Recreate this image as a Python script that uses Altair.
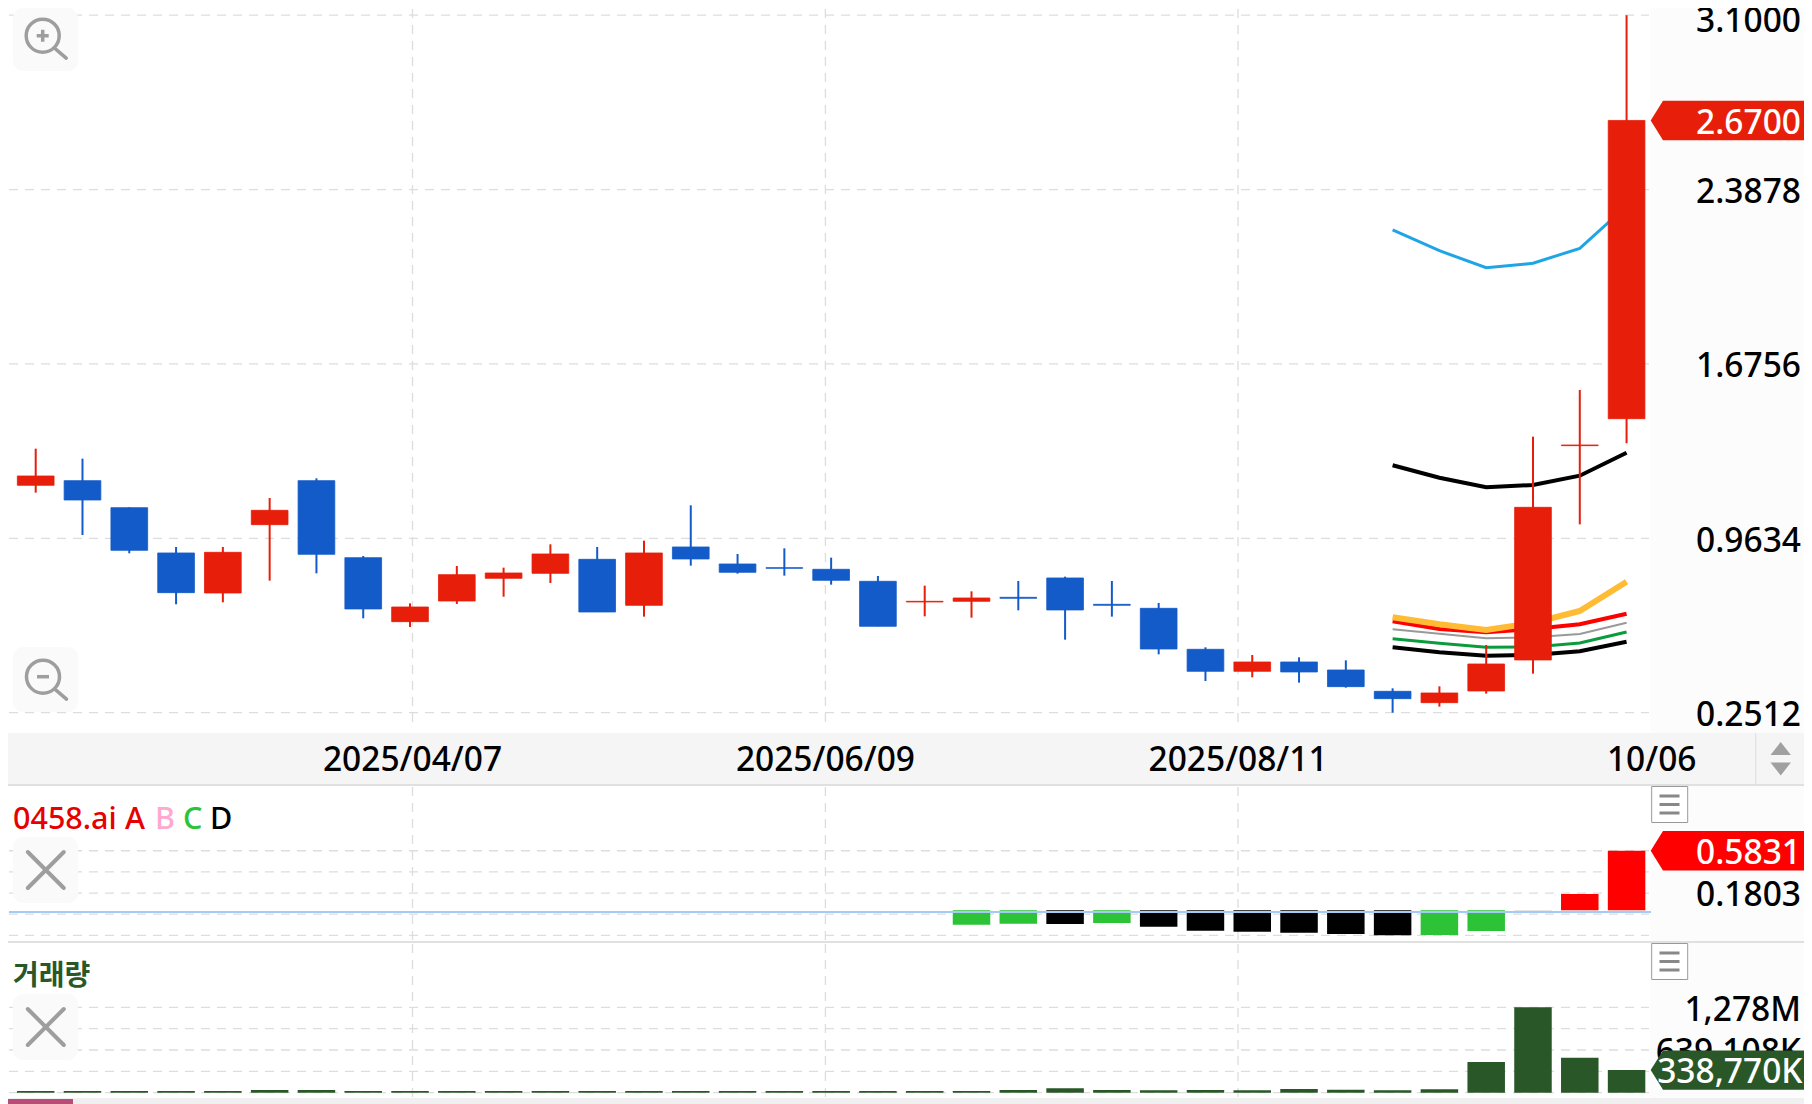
import altair as alt
import pandas as pd

# ---------- data ----------
highs = [1.3295,1.2887,1.0900,0.9280,0.9280,1.1281,1.2084,0.8912,0.6979,0.8504,0.8436,0.9389,0.9280,0.9538,1.0981,
         0.8994,0.9225,0.8844,0.8095,0.7701,0.7469,0.7891,0.8068,0.7891,0.6993,0.5182,0.4869,0.4774,0.4651,0.3508,
         0.3589,0.5277,1.3786,1.5691,3.1000]
lows = [1.1499,0.9770,0.9021,0.6938,0.7020,0.7905,0.8204,0.6367,0.6013,0.6952,0.7251,0.7810,0.6625,0.6435,0.8517,
        0.8191,0.8109,0.7741,0.6040,0.6448,0.6394,0.6693,0.5495,0.6435,0.4896,0.3807,0.3957,0.3739,0.3535,0.2514,
        0.2759,0.3290,0.4107,1.0205,1.3514]
opens = [1.1798,1.1989,1.0886,0.9035,0.7401,1.0192,1.1989,0.8844,0.6230,0.7074,0.8000,0.8204,0.8776,0.6897,0.9280,
         0.8585,0.8436,0.8368,0.7878,0.7034,0.7061,0.7224,0.8014,0.6938,0.6775,0.5101,0.4202,0.4583,0.4256,0.3385,
         0.2922,0.3399,0.4665,1.3418,1.4519]
closes = [1.2179,1.1199,0.9143,0.7415,0.9062,1.0777,0.8980,0.6748,0.6829,0.8150,0.8218,0.8994,0.6625,0.9035,0.8790,
          0.8245,0.8408,0.7918,0.6040,0.7061,0.7197,0.7183,0.6707,0.6897,0.5114,0.4202,0.4583,0.4175,0.3576,0.3086,
          0.3317,0.4501,1.0900,1.3445,2.6700]

ma_index = [29,30,31,32,33,34]
ma_sky = [2.2226,2.1380,2.0686,2.0866,2.1478,2.3206]
ma_black_up = [1.2616,1.2109,1.1717,1.1811,1.2191,1.3130]
ma_yellow = [0.6408,0.6122,0.5889,0.6175,0.6665,0.7862]
ma_red = [0.6245,0.5930,0.5796,0.5930,0.6122,0.6555]
ma_grey = [0.5918,0.5738,0.5550,0.5591,0.5726,0.6188]
ma_green = [0.5534,0.5346,0.5183,0.5195,0.5359,0.5808]
ma_black_low = [0.5183,0.4979,0.4840,0.4868,0.5020,0.5412]

osc_index = list(range(20,35))
osc_values = [-0.1210,-0.1115,-0.1147,-0.1052,-0.1401,-0.1781,-0.1876,-0.1972,-0.2099,-0.2225,-0.2194,-0.1813,0.0185,0.1708,0.5831]
osc_kinds = ["C","C","D","C","D","D","D","D","D","D","C","C","B","A","A"]
osc_base = 0.0154

volumes = [25,25,25,25,25,40,40,25,25,25,25,25,25,25,25,
           25,25,25,25,25,25,40,65,40,35,40,35,55,45,35,50,459,1278,524,338.77]

price_ticks = [2.3878,1.6756,0.9634,0.2512]
osc_grid = [0.5831,0.3817,0.1803,-0.0211,-0.2225]
vol_grid = [1278,958.5,639.108,319.5,0]
grid_pos = [8.053,16.878,25.696]
date_pos = [8.053,16.878,25.696,34.537]
date_labels = ["2025/04/07","2025/06/09","2025/08/11","10/06"]

# ---------- style ----------
RED="#E61E0A"; BLUE="#135BC8"; GRID="#DDDDDD"; GUT="#FCFCFC"; STRIP="#F5F5F5"; DK="#2A5728"; ICON="#9E9E9E"
FONT="Noto Sans"; KR="Noto Sans CJK KR"; FS=33.5; FW=500
W=1796; RIGHT=1804; TEXT_R=1801
xs=alt.Scale(domain=[-0.592,37.792],nice=False,zero=False,padding=0)
X=alt.X("i:Q",scale=xs,axis=None)
one=alt.Data(values=[{"a":1}])
PX=lambda x:x-8

def rect(x0,y0,x1,y1,top,fill,**kw):
    return alt.Chart(one).mark_rect(fill=fill,**kw).encode(
        x=alt.value(PX(x0)),x2=alt.value(PX(x1)),y=alt.value(y0-top),y2=alt.value(y1-top))
def shape(path,x,y,top,fill=None,stroke=None,sw=1,**kw):
    opts=dict(shape=path,size=4,opacity=1,strokeWidth=sw,**kw)
    if fill:
        opts.update(filled=True,fill=fill)
    else:
        opts.update(filled=False,fillOpacity=0)
    if stroke:
        opts.update(stroke=stroke)
    else:
        opts.update(strokeWidth=0)
    return alt.Chart(one).mark_point(**opts).encode(x=alt.value(PX(x)),y=alt.value(y-top))
def label(s,x,y,top,color="#000000",size=FS,align="left",weight=FW,font=FONT):
    return alt.Chart(one).mark_text(text=s,font=font,fontSize=size,color=color,align=align,baseline="middle",fontWeight=weight).encode(
        x=alt.value(PX(x)),y=alt.value(y-top))
def hgrid(values,Y):
    return alt.Chart(pd.DataFrame({"v":values})).mark_rule(color=GRID,strokeWidth=1.3,strokeDash=[9,7]).encode(
        x=alt.value(1),x2=alt.value(PX(1649)),y=alt.Y("v:Q",scale=Y,axis=None))
def vgrid(h):
    return alt.Chart(pd.DataFrame({"i":grid_pos})).mark_rule(color=GRID,strokeWidth=1.3,strokeDash=[9,7]).encode(
        x=X,y=alt.value(1),y2=alt.value(h))
def ticks(values,texts,Y,color="#000000",dy=3.3,**kw):
    return alt.Chart(pd.DataFrame({"v":values,"t":texts})).mark_text(font=FONT,fontSize=FS,fontWeight=FW,color=color,align="right",baseline="middle",dy=dy,**kw).encode(
        x=alt.value(PX(TEXT_R)),y=alt.Y("v:Q",scale=Y,axis=None),text="t:N")
TAG="M12.3,-19.7L153.3,-19.7L153.3,19.7L12.3,19.7L0,0Z"
def tag(v,Y,color,s,text_x=TEXT_R):
    d=pd.DataFrame({"v":[v],"t":[s]})
    return [alt.Chart(d).mark_point(shape=TAG,size=4,filled=True,fill=color,opacity=1,strokeWidth=0).encode(
                x=alt.value(PX(1650.7)),y=alt.Y("v:Q",scale=Y,axis=None)),
            alt.Chart(d).mark_text(font=FONT,fontSize=FS,fontWeight=FW,color="#FFFFFF",align="right",baseline="middle",dy=3.3).encode(
                x=alt.value(PX(text_x)),y=alt.Y("v:Q",scale=Y,axis=None),text="t:N")]
def hamburger(cy,top):
    return [rect(1651.7,cy-18,1687.7,cy+18,top,"#FFFFFF",stroke="#999999",strokeWidth=1),
            shape("M-10,-8.5L10,-8.5M-10,0L10,0M-10,8.5L10,8.5",1669.5,cy,top,stroke="#888888",sw=3)]
def close_icon(cy,top):
    return [rect(13,cy-33,78,cy+33,top,"#FAFAFA",cornerRadius=10),
            shape("M-18,-18L18,18M18,-18L-18,18",45.8,cy,top,stroke=ICON,sw=4,strokeCap="round")]
CIRC="M-16.5,0A16.5,16.5 0 1,1 16.5,0A16.5,16.5 0 1,1 -16.5,0"

# ---------- main price panel ----------
T0=8; H0=725
Yp=alt.Scale(domain=[0.1683,3.1292],nice=False,zero=False,padding=0)
Yf=lambda f:alt.Y(f"{f}:Q",scale=Yp,axis=None)
cd=pd.DataFrame({"i":range(len(highs)),"h":highs,"l":lows,"o":opens,"c":closes})
cd["col"]=[RED if c>=o else BLUE for o,c in zip(opens,closes)]
Col=alt.Color("col:N",scale=None)
main=[rect(1650,8,RIGHT,733,T0,GUT),hgrid([3.1000]+price_ticks,Yp),vgrid(719)]
for vals,color,sw in [(ma_black_low,"#000000",4),(ma_green,"#0A9B3C",3),(ma_grey,"#999999",2),(ma_red,"#FF0000",4),
                      (ma_yellow,"#FFBB33",6),(ma_black_up,"#000000",4),(ma_sky,"#1FA5E6",3)]:
    main.append(alt.Chart(pd.DataFrame({"i":ma_index,"v":vals})).mark_line(color=color,strokeWidth=sw).encode(x=X,y=Yf("v")))
main+=[alt.Chart(cd).mark_rule(strokeWidth=2).encode(x=X,y=Yf("h"),y2="l:Q",color=Col),
       alt.Chart(cd).mark_bar(size=36.7,strokeWidth=0.8).encode(x=X,y=Yf("o"),y2="c:Q",color=Col,stroke=alt.Stroke("col:N",scale=None))]
main+=[ticks(price_ticks,["2.3878","1.6756","0.9634","0.2512"],Yp),
       ticks([3.1000],["3.1000"],Yp,dy=7,clip=True)]
main+=tag(2.67,Yp,RED,"2.6700")
main+=[rect(13,8,78,71,T0,"#FAFAFA",cornerRadius=10),
       shape(CIRC+"M13,13.5L23.5,22.5",42.7,35.7,T0,stroke=ICON,sw=3.5,strokeCap="round"),
       shape("M-6,0L6,0M0,-6L0,6",42.7,35.7,T0,stroke=ICON,sw=3.5),
       rect(13,647,78,712,T0,"#FAFAFA",cornerRadius=10),
       shape(CIRC+"M13,13.5L23.5,22.5",43,676.7,T0,stroke=ICON,sw=3.5,strokeCap="round"),
       shape("M-6,0L6,0",43,676.7,T0,stroke=ICON,sw=3.5)]
p_main=alt.layer(*main).properties(width=W,height=H0)

# ---------- date strip ----------
T1=733; H1=53
dd=pd.DataFrame({"i":date_pos,"t":date_labels})
strip=[rect(8,733,RIGHT,784,T1,STRIP),rect(8,784,RIGHT,786,T1,"#E0E0E0"),rect(1755.2,733,1756.2,784,T1,"#DDDDDD"),
       alt.Chart(dd).mark_text(font=FONT,fontSize=FS,fontWeight=FW,color="#000000",align="center",baseline="middle",dy=2.6).encode(
           x=X,y=alt.value(758-T1),text="t:N"),
       shape("M-10.2,6.5L0,-6.5L10.2,6.5Z",1780.7,748.5,T1,fill="#A0A0A0"),
       shape("M-10.2,-6.5L10.2,-6.5L0,6.5Z",1780.7,769,T1,fill="#A0A0A0")]
p_strip=alt.layer(*strip).properties(width=W,height=H1)

# ---------- oscillator panel ----------
T2=786; H2=157
Yo=alt.Scale(domain=[-0.2955,1.2],nice=False,zero=False,padding=0)
kind_col={"A":"#FF0000","B":"#999999","C":"#2DC337","D":"#000000"}
od=pd.DataFrame({"i":osc_index,"v":osc_values,"b":[osc_base]*len(osc_index),"col":[kind_col[k] for k in osc_kinds]})
osc=[rect(1650,786,RIGHT,941,T2,GUT),hgrid(osc_grid,Yo),vgrid(155),
     alt.Chart(od).mark_bar(size=37.5).encode(x=X,y=alt.Y("v:Q",scale=Yo,axis=None),y2="b:Q",color=Col),
     alt.Chart(pd.DataFrame({"v":[0.0]})).mark_rule(color="#A3CBF5",strokeWidth=2).encode(
         x=alt.value(1),x2=alt.value(PX(1651)),y=alt.Y("v:Q",scale=Yo,axis=None)),
     ticks([0.1803],["0.1803"],Yo)]
osc+=tag(0.5831,Yo,"#FF0000","0.5831")
osc+=hamburger(804.5,T2)+close_icon(870,T2)
osc+=[label("0458.ai",13,820,T2,color="#E60000",size=30.5),label("A",125,820,T2,color="#E60000",size=30.5),
      label("B",155,820,T2,color="#FFA8D0",size=30.5),label("C",183,820,T2,color="#2DC337",size=30.5),
      label("D",210,820,T2,color="#000000",size=30.5),
      rect(8,941,RIGHT,943,T2,"#E0E0E0")]
p_osc=alt.layer(*osc).properties(width=W,height=H2)

# ---------- volume panel ----------
T3=943; H3=161
Yv=alt.Scale(domain=[-169,2241],nice=False,zero=False,padding=0)
vd=pd.DataFrame({"i":range(len(volumes)),"v":volumes,"b":[0]*len(volumes)})
vol=[rect(1650,943,RIGHT,1098,T3,GUT),hgrid(vol_grid,Yv),vgrid(155),
     alt.Chart(vd).mark_bar(size=37.5,color=DK).encode(x=X,y=alt.Y("v:Q",scale=Yv,axis=None),y2="b:Q"),
     ticks([1278,639.108],["1,278M","639,108K"],Yv)]
vol+=tag(338.77,Yv,DK,"338,770K",text_x=1802.5)
vol+=hamburger(961.5,T3)+close_icon(1027,T3)
vol+=[label("거래량",13,977,T3,color=DK,size=28,weight="bold",font=KR),
      rect(8,1098,RIGHT,1104,T3,"#F0F0F0"),rect(8,1099,73,1104,T3,"#B84E78")]
p_vol=alt.layer(*vol).properties(width=W,height=H3)

chart=alt.vconcat(p_main,p_strip,p_osc,p_vol,spacing=0,padding=0,background="#FFFFFF").configure_view(stroke=None).configure_concat(spacing=0)
chart.save("out.html",embed_options={"renderer":"svg","actions":False})
